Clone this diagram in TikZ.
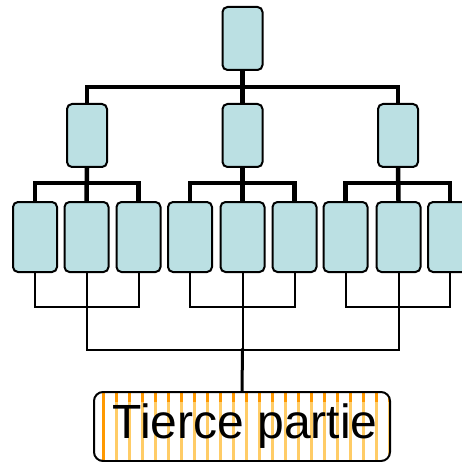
\documentclass[tikz,border=0pt]{standalone}
\usepackage{fontspec}
\setmainfont{Liberation Sans}
\begin{document}
\begin{tikzpicture}[x=1pt,y=-1pt,
  unit/.style={draw=black,line width=2pt,fill=boxblue,rounded corners=5pt,
    minimum width=40pt,minimum height=63pt,inner sep=0pt},
  leaf/.style={unit,minimum width=44pt,minimum height=70pt},
  thick link/.style={line width=4.5pt},
  thin link/.style={line width=2pt},
  feed/.style={line width=3pt}]
\definecolor{boxblue}{HTML}{BBE0E3}
\definecolor{stripelight}{HTML}{FFCC66}
\definecolor{stripedark}{HTML}{FF9900}
\useasboundingbox (0,0) rectangle (462,462);
\clip (0,0) rectangle (462,462);

% hierarchy of units
\node[unit] (t) at (242.5,38.5) {};
\node[unit] (m1) at (87,135.5) {};
\node[unit] (m2) at (242.5,135.5) {};
\node[unit] (m3) at (398,135.5) {};
\foreach \i/\x in {1/35,2/86.5,3/138.5,4/190,5/242.5,6/294.5,7/345.5,8/398.5,9/450}
  \node[leaf] (l\i) at (\x,237) {};

% thick links: top -> middle row
\draw[thick link] (t.south) -- (242.5,87);
\draw[thick link] (m1.north) |- (242.5,87) -| (m3.north);
\draw[thick link] (242.5,87) -- (m2.north);

% thick links: middle row -> leaves
\foreach \m/\a/\b/\c in {m1/l1/l2/l3,m2/l4/l5/l6,m3/l7/l8/l9}{
  \draw[thick link] (\m.south) -- (\b.north);
  \draw[thick link] (\a.north) |- (\m.south |- 0,183) -| (\c.north);
}

% striped background of the third party box
\begin{scope}
  \clip[rounded corners=9pt] (94,392) rectangle (390,461);
  \fill[white] (94,392) rectangle (390,461);
  \foreach \k in {0,...,22}{
    \fill[stripelight] (103+13*\k-1.5,392) rectangle (103+13*\k+1.5,462);
    \fill[stripedark] (103+13*\k-1.5,392) rectangle (103+13*\k+1.5,402);
  }
  \fill[stripedark] (101.5,392) rectangle (104.5,462);
\end{scope}

% third party box
\node[draw=black,line width=2pt,rounded corners=9pt,minimum width=296pt,
  minimum height=69pt,inner sep=0pt,font=\fontsize{48}{48}\selectfont]
  (tp) at (242,426.5) {\hspace*{6pt}\raisebox{-4pt}{Tierce partie}};

% thin links: leaves grouped, then to the third party
\foreach \a/\b/\c in {l1/l2/l3,l4/l5/l6,l7/l8/l9}{
  \draw[thin link] (\a.south) |- (\b.south |- 0,307) -| (\c.south);
  \draw[thin link] (\b.south) -- (\b.south |- 0,307);
}
\draw[thin link] (l2.south |- 0,307) -- (l2.south |- 0,350) -| (l8.south |- 0,307);
\draw[thin link] (l5.south |- 0,307) -- (l5.south |- 0,350);
\draw[feed] (l5.south |- 0,348.5) -- (tp.north);
\end{tikzpicture}
\end{document}
